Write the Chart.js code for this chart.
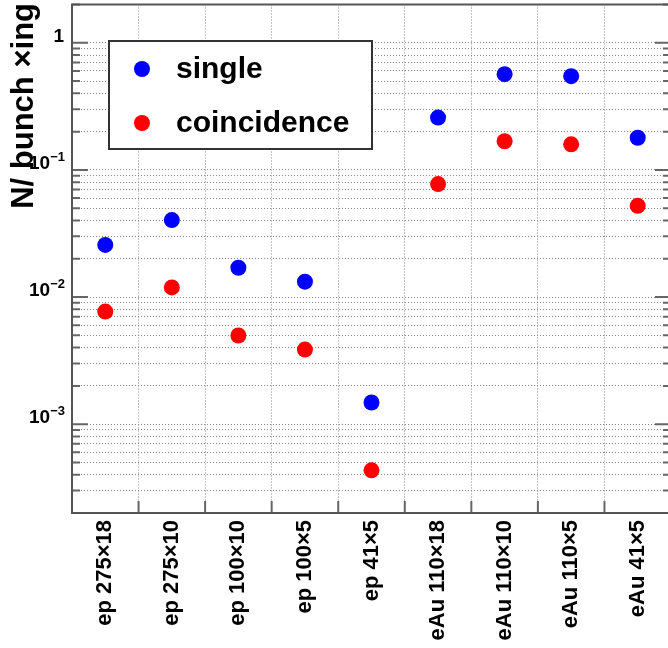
<!DOCTYPE html>
<html>
<head>
<meta charset="utf-8">
<script src="https://cdn.jsdelivr.net/npm/chart.js@4/dist/chart.umd.min.js"></script>
<style>
  html, body { margin: 0; padding: 0; background: #fff; overflow: hidden; }
  #myChart { display: block; }
</style>
</head>
<body>
<canvas id="myChart" width="672" height="648"></canvas>
<script>
var categories = ['ep 275×18', 'ep 275×10', 'ep 100×10', 'ep 100×5', 'ep 41×5',
                  'eAu 110×18', 'eAu 110×10', 'eAu 110×5', 'eAu 41×5']
var singleValues = [0.0257, 0.0403, 0.0170, 0.0132, 0.00148, 0.258, 0.566, 0.546, 0.179]
var coincidenceValues = [0.00768, 0.0119, 0.00498, 0.00386, 0.000433, 0.0774, 0.168, 0.159, 0.0522]
var majorTicks = [1e-3, 1e-2, 1e-1, 1]
var majorTickBase = ['10', '10', '10', '1']
var majorTickExp = ['−3', '−2', '−1', '']
var minorSteps = [2, 3, 4, 5, 6, 7, 8, 9]
var yMin = 2e-4
var yMax = 2
var yTitle = 'N/ bunch ×ing'

var FONT = '"Liberation Sans", Arial, Helvetica, sans-serif'

// ROOT-like frame, inward ticks, labels and legend
var rootStyle = {
  id: 'rootStyle',
  afterDatasetsDraw: function(chart) {
    var ctx = chart.ctx
    var area = chart.chartArea
    var x = chart.scales.x
    var y = chart.scales.y

    ctx.save()
    ctx.strokeStyle = '#666'
    ctx.lineWidth = 2
    y.ticks.forEach(function(t) {
      var py = y.getPixelForValue(t.value)
      var len = t.major ? 16 : 8
      ctx.beginPath()
      ctx.moveTo(area.left, py); ctx.lineTo(area.left + len, py)
      ctx.moveTo(area.right, py); ctx.lineTo(area.right - len, py)
      ctx.stroke()
    })
    for (var i = 0; i < categories.length - 1; i++) {
      var px = (x.getPixelForValue(i) + x.getPixelForValue(i + 1)) / 2
      ctx.beginPath()
      ctx.moveTo(px, area.bottom); ctx.lineTo(px, area.bottom - 12)
      ctx.stroke()
    }
    ctx.strokeStyle = '#555'
    ctx.strokeRect(area.left, area.top, area.right - area.left, area.bottom - area.top)

    // legend
    var lx = 109, ly = 41, lw = 263, lh = 108
    ctx.fillStyle = '#fff'
    ctx.fillRect(lx, ly, lw, lh)
    ctx.strokeStyle = '#333'
    ctx.lineWidth = 2
    ctx.strokeRect(lx, ly, lw, lh)
    var rows = [69, 123]
    chart.data.datasets.forEach(function(ds, k) {
      ctx.fillStyle = ds.backgroundColor
      ctx.beginPath()
      ctx.arc(142, rows[k], 8, 0, Math.PI * 2)
      ctx.fill()
      ctx.fillStyle = '#000'
      ctx.font = 'bold 30px ' + FONT
      ctx.textAlign = 'left'
      ctx.textBaseline = 'alphabetic'
      ctx.fillText(ds.label, 176, rows[k] + 9)
    })

    // x labels
    ctx.fillStyle = '#000'
    ctx.font = 'bold 22px ' + FONT
    categories.forEach(function(c, i) {
      ctx.save()
      ctx.translate(x.getPixelForValue(i), area.bottom + 7)
      ctx.rotate(-Math.PI / 2)
      ctx.textAlign = 'right'
      ctx.textBaseline = 'middle'
      ctx.fillText(c, 0, 0)
      ctx.restore()
    })

    // y labels
    majorTicks.forEach(function(v, i) {
      var py = y.getPixelForValue(v)
      var right = 64
      ctx.textAlign = 'right'
      ctx.textBaseline = 'alphabetic'
      if (majorTickExp[i]) {
        ctx.font = 'bold 13px ' + FONT
        ctx.fillText(majorTickExp[i], right + 1, py - 9)
        right = right + 1 - ctx.measureText(majorTickExp[i]).width
      }
      ctx.font = 'bold 19px ' + FONT
      ctx.fillText(majorTickBase[i], right, py - 1)
    })

    // y title
    ctx.save()
    ctx.translate(33, 3)
    ctx.rotate(-Math.PI / 2)
    ctx.font = 'bold 31px ' + FONT
    ctx.textAlign = 'right'
    ctx.textBaseline = 'alphabetic'
    ctx.fillText(yTitle, 0, 0)
    ctx.restore()
    ctx.restore()
  }
}

var ctx = document.getElementById('myChart')
var myChart = new Chart(ctx, {
  type: 'line',
  data: {
    labels: categories,
    datasets: [{
      label: 'single',
      data: singleValues,
      showLine: false,
      backgroundColor: '#0000ff',
      borderColor: '#0000ff',
      pointRadius: 8,
      pointBorderWidth: 0
    }, {
      label: 'coincidence',
      data: coincidenceValues,
      showLine: false,
      backgroundColor: '#ff0000',
      borderColor: '#ff0000',
      pointRadius: 8,
      pointBorderWidth: 0
    }]
  },
  options: {
    responsive: false,
    animation: false,
    layout: { autoPadding: false, padding: { top: 4.5, right: 1, left: 0, bottom: 0 } },
    plugins: { legend: { display: false }, tooltip: { enabled: false } },
    scales: {
      x: {
        offset: true,
        grid: { offset: true, color: '#888', lineWidth: 1, drawTicks: false },
        border: { display: false, dash: [1, 2] },
        ticks: { display: false },
        afterFit: function(s) { s.height = 135 }
      },
      y: {
        type: 'logarithmic',
        min: yMin,
        max: yMax,
        grid: { color: '#888', lineWidth: 1, drawTicks: false },
        border: { display: false, dash: [1, 2] },
        ticks: { display: false },
        afterBuildTicks: function(s) {
          var t = []
          majorTicks.forEach(function(m) {
            t.push({ value: m, major: true })
          })
          ;[1e-4, 1e-3, 1e-2, 1e-1, 1].forEach(function(d) {
            minorSteps.forEach(function(k) {
              var v = k * d
              if (v >= yMin && v <= yMax) t.push({ value: v, major: false })
            })
          })
          t.sort(function(a, b) { return a.value - b.value })
          s.ticks = t
        },
        afterFit: function(s) { s.width = 72 }
      }
    }
  },
  plugins: [rootStyle]
})
</script>
</body>
</html>
